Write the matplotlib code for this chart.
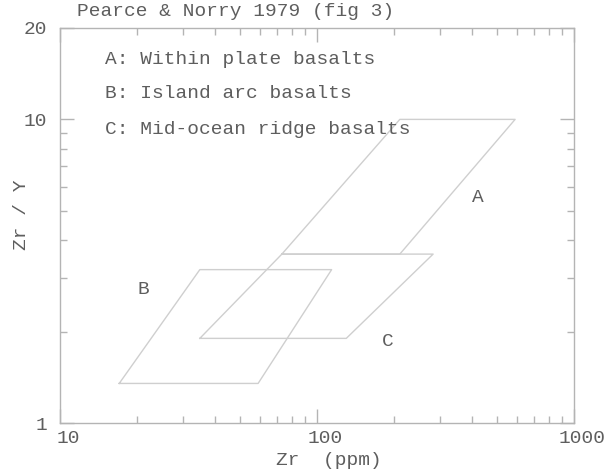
import numpy as np
import matplotlib
matplotlib.use('Agg')
import matplotlib.pyplot as plt
import matplotlib.transforms as mtransforms
from matplotlib.ticker import LogLocator, NullFormatter, FixedLocator

plt.rcParams['font.family'] = ['Liberation Mono', 'DejaVu Sans Mono']

# Field outlines (Zr ppm, Zr/Y)
field_a_zr = [73, 210, 590, 210, 73]
field_a_zry = [3.6, 3.6, 10, 10, 3.6]
field_b_zr = [17, 59, 114, 35, 17]
field_b_zry = [1.35, 1.35, 3.2, 3.2, 1.35]
field_c_zr = [35, 130, 283, 73, 35]
field_c_zry = [1.9, 1.9, 3.6, 3.6, 1.9]

field_labels = ['A', 'B', 'C']
label_zr = [423, 21.2, 189]
label_zry = [5.55, 2.76, 1.85]

legend_lines = ['A: Within plate basalts',
                'B: Island arc basalts',
                'C: Mid-ocean ridge basalts']

x_ticks = [10, 100, 1000]
y_ticks = [1, 10, 20]

line_col = '#cfcfcf'
axis_col = '#b4b4b4'
text_col = '#5e5e5e'
fs = 14

fig = plt.figure(figsize=(6.08, 4.69), dpi=100)
ax = fig.add_axes([60/608, 1 - 423/469, (574-60)/608, (423-28)/469])
ax.set_xscale('log')
ax.set_yscale('log')
ax.set_xlim(10, 1000)
ax.set_ylim(1, 20)

for zr, zry in [(field_a_zr, field_a_zry), (field_b_zr, field_b_zry),
                (field_c_zr, field_c_zry)]:
    ax.plot(zr, zry, color=line_col, lw=1.0)

for lab, zx, zy in zip(field_labels, label_zr, label_zry):
    ax.text(zx, zy, lab, fontsize=fs, color=text_col, ha='center', va='center')

for i, line in enumerate(legend_lines):
    ax.text(105/608, 1 - (59 + 35*i)/469, line, transform=fig.transFigure,
            fontsize=fs, color=text_col, ha='left', va='center')

fig.text(77/608, 1 - 12/469, 'Pearce & Norry 1979 (fig 3)', fontsize=fs,
         color=text_col, ha='left', va='center')

# axes styling
for sp in ax.spines.values():
    sp.set_color(axis_col)
    sp.set_linewidth(1.0)

ax.xaxis.set_major_locator(FixedLocator(x_ticks))
ax.yaxis.set_major_locator(FixedLocator(y_ticks))
ax.set_xticklabels([str(v) for v in x_ticks])
ax.set_yticklabels([str(v) for v in y_ticks])
ax.xaxis.set_minor_locator(LogLocator(base=10, subs=np.arange(2, 10)))
ax.yaxis.set_minor_locator(LogLocator(base=10, subs=np.arange(2, 10)))
ax.xaxis.set_minor_formatter(NullFormatter())
ax.yaxis.set_minor_formatter(NullFormatter())

ax.tick_params(which='both', direction='in', top=True, right=True,
               color=axis_col, labelcolor=text_col, labelsize=fs)
ax.tick_params(which='major', length=10, width=1.0)
ax.tick_params(which='minor', length=5, width=1.0)
ax.tick_params(axis='x', which='major', pad=5)
ax.tick_params(axis='y', which='major', pad=9)

shift = mtransforms.ScaledTranslation(8/100, 0, fig.dpi_scale_trans)
for lbl in ax.get_xticklabels():
    lbl.set_transform(lbl.get_transform() + shift)

fig.text(329/608, 1 - 460/469, 'Zr  (ppm)', fontsize=fs, color=text_col,
         ha='center', va='center')
fig.text(22/608, 1 - 215/469, 'Zr / Y', fontsize=fs, color=text_col,
         ha='center', va='center', rotation=90)

fig.savefig('out.png', dpi=100)
